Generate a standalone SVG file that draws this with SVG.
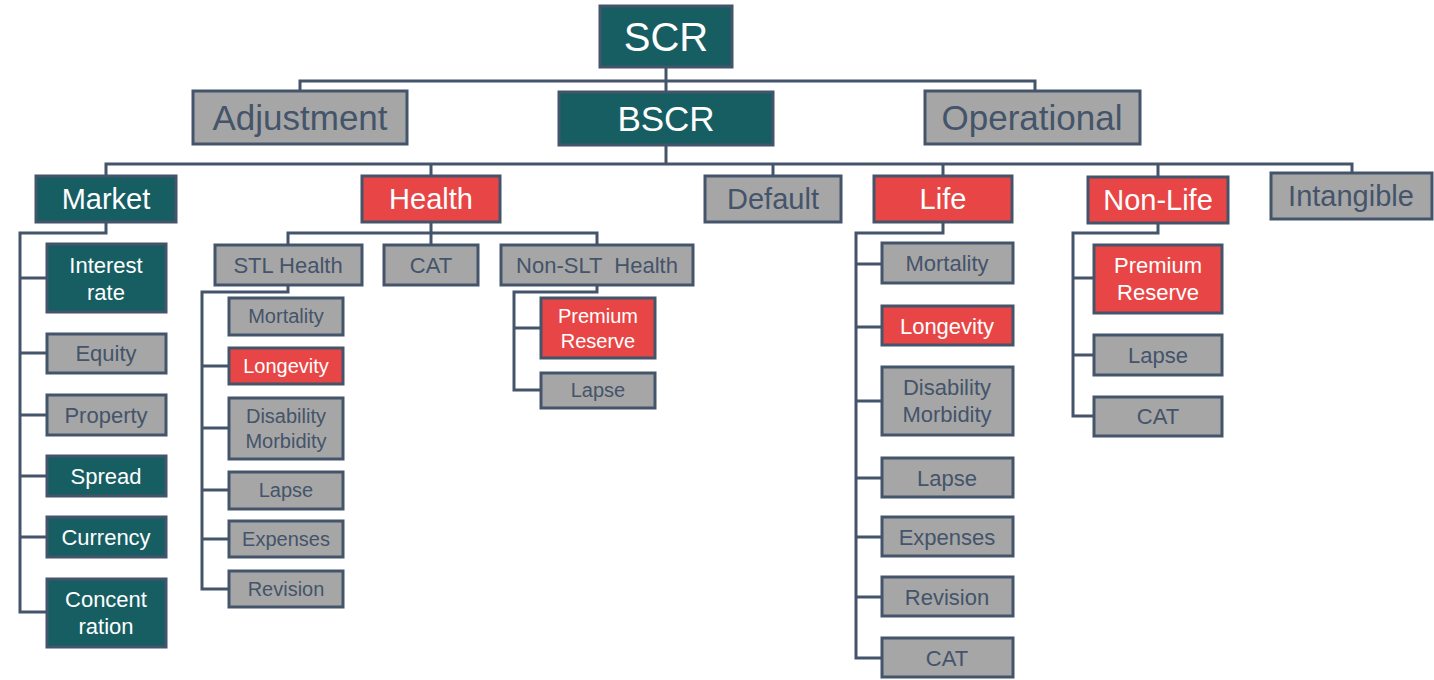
<svg xmlns="http://www.w3.org/2000/svg" width="1434" height="680" viewBox="0 0 1434 680">
<style>
rect{stroke:#44546a;stroke-width:3}
.t{fill:#175e63}.g{fill:#a6a6a6}.r{fill:#e84646}
text{font-family:"Liberation Sans",Arial,sans-serif;text-anchor:middle}
.w{fill:#ffffff}.d{fill:#44546a}
#conn path{fill:none;stroke:#44546a;stroke-width:3}
</style>
<rect width="1434" height="680" fill="#ffffff" style="stroke:none"/>
<g id="conn">
<path d="M666,67V92"/>
<path d="M300,91V81H1035V91"/>
<path d="M666,145V164"/>
<path d="M106,176V164H1352V173"/>
<path d="M431,164V176M773,164V176M943,164V176M1158,164V177"/>
<path d="M106,222V233H20V612H47M20,278H47M20,353H47M20,415H47M20,476H47M20,537H47"/>
<path d="M431,222V245M288,245V233H597V245"/>
<path d="M288,285V292H202V589H229M202,366H229M202,428H229M202,490H229M202,539H229"/>
<path d="M597,285V292H514V390H541M514,328H541"/>
<path d="M943,222V233H856V658H882M856,264H882M856,327H882M856,401H882M856,478H882M856,537H882M856,597H882"/>
<path d="M1158,223V233H1073V416H1094M1073,278H1094M1073,355H1094"/>
</g>
<g id="scr"><rect class="t" x="600" y="6" width="132" height="61"/><text class="w" x="666" y="51" font-size="40">SCR</text></g>
<g id="adjustment"><rect class="g" x="193" y="91" width="214" height="53"/><text class="d" x="300" y="130" font-size="35">Adjustment</text></g>
<g id="bscr"><rect class="t" x="559" y="92" width="214" height="53"/><text class="w" x="666" y="131" font-size="35">BSCR</text></g>
<g id="operational"><rect class="g" x="925" y="91" width="215" height="53"/><text class="d" x="1032" y="130" font-size="35">Operational</text></g>

<g id="market"><rect class="t" x="36" y="176" width="140" height="46"/><text class="w" x="106" y="209" font-size="29">Market</text></g>
<g id="health"><rect class="r" x="362" y="176" width="138" height="46"/><text class="w" x="431" y="209" font-size="29">Health</text></g>
<g id="default"><rect class="g" x="705" y="176" width="136" height="46"/><text class="d" x="773" y="209" font-size="29">Default</text></g>
<g id="life"><rect class="r" x="874" y="176" width="138" height="46"/><text class="w" x="943" y="209" font-size="29">Life</text></g>
<g id="nonlife"><rect class="r" x="1088" y="177" width="140" height="46"/><text class="w" x="1158" y="210" font-size="29">Non-Life</text></g>
<g id="intangible"><rect class="g" x="1271" y="173" width="161" height="46"/><text class="d" x="1351" y="206" font-size="29">Intangible</text></g>

<g id="m-interest"><rect class="t" x="47" y="244" width="119" height="68"/><text class="w" x="106" y="273" font-size="22">Interest</text><text class="w" x="106" y="300" font-size="22">rate</text></g>
<g id="m-equity"><rect class="g" x="47" y="334" width="119" height="39"/><text class="d" x="106" y="361" font-size="22">Equity</text></g>
<g id="m-property"><rect class="g" x="47" y="395" width="119" height="40"/><text class="d" x="106" y="423" font-size="22">Property</text></g>
<g id="m-spread"><rect class="t" x="47" y="456" width="119" height="40"/><text class="w" x="106" y="484" font-size="22">Spread</text></g>
<g id="m-currency"><rect class="t" x="47" y="517" width="119" height="40"/><text class="w" x="106" y="545" font-size="22">Currency</text></g>
<g id="m-concentration"><rect class="t" x="47" y="579" width="119" height="68"/><text class="w" x="106" y="607" font-size="22">Concent</text><text class="w" x="106" y="634" font-size="22">ration</text></g>

<g id="h-stl"><rect class="g" x="215" y="245" width="147" height="40"/><text class="d" x="288" y="273" font-size="22">STL Health</text></g>
<g id="h-cat"><rect class="g" x="384" y="245" width="94" height="40"/><text class="d" x="431" y="273" font-size="22">CAT</text></g>
<g id="h-nonslt"><rect class="g" x="501" y="245" width="192" height="40"/><text class="d" x="597" y="273" font-size="22" xml:space="preserve">Non-SLT  Health</text></g>

<g id="s-mortality"><rect class="g" x="229" y="298" width="114" height="37"/><text class="d" x="286" y="323" font-size="20">Mortality</text></g>
<g id="s-longevity"><rect class="r" x="229" y="348" width="114" height="36"/><text class="w" x="286" y="373" font-size="20">Longevity</text></g>
<g id="s-disability"><rect class="g" x="229" y="398" width="114" height="61"/><text class="d" x="286" y="423" font-size="20">Disability</text><text class="d" x="286" y="448" font-size="20">Morbidity</text></g>
<g id="s-lapse"><rect class="g" x="229" y="472" width="114" height="37"/><text class="d" x="286" y="497" font-size="20">Lapse</text></g>
<g id="s-expenses"><rect class="g" x="229" y="521" width="114" height="36"/><text class="d" x="286" y="546" font-size="20">Expenses</text></g>
<g id="s-revision"><rect class="g" x="229" y="571" width="114" height="36"/><text class="d" x="286" y="596" font-size="20">Revision</text></g>

<g id="n-premium"><rect class="r" x="541" y="298" width="114" height="60"/><text class="w" x="598" y="323" font-size="20">Premium</text><text class="w" x="598" y="348" font-size="20">Reserve</text></g>
<g id="n-lapse"><rect class="g" x="541" y="373" width="114" height="35"/><text class="d" x="598" y="397" font-size="20">Lapse</text></g>

<g id="l-mortality"><rect class="g" x="882" y="243" width="131" height="40"/><text class="d" x="947" y="271" font-size="22">Mortality</text></g>
<g id="l-longevity"><rect class="r" x="882" y="306" width="131" height="39"/><text class="w" x="947" y="334" font-size="22">Longevity</text></g>
<g id="l-disability"><rect class="g" x="882" y="367" width="131" height="68"/><text class="d" x="947" y="395" font-size="22">Disability</text><text class="d" x="947" y="422" font-size="22">Morbidity</text></g>
<g id="l-lapse"><rect class="g" x="882" y="458" width="131" height="39"/><text class="d" x="947" y="486" font-size="22">Lapse</text></g>
<g id="l-expenses"><rect class="g" x="882" y="517" width="131" height="39"/><text class="d" x="947" y="545" font-size="22">Expenses</text></g>
<g id="l-revision"><rect class="g" x="882" y="577" width="131" height="39"/><text class="d" x="947" y="605" font-size="22">Revision</text></g>
<g id="l-cat"><rect class="g" x="882" y="638" width="131" height="39"/><text class="d" x="947" y="666" font-size="22">CAT</text></g>

<g id="nl-premium"><rect class="r" x="1094" y="245" width="128" height="68"/><text class="w" x="1158" y="273" font-size="22">Premium</text><text class="w" x="1158" y="300" font-size="22">Reserve</text></g>
<g id="nl-lapse"><rect class="g" x="1094" y="335" width="128" height="40"/><text class="d" x="1158" y="363" font-size="22">Lapse</text></g>
<g id="nl-cat"><rect class="g" x="1094" y="397" width="128" height="39"/><text class="d" x="1158" y="424" font-size="22">CAT</text></g>
</svg>
